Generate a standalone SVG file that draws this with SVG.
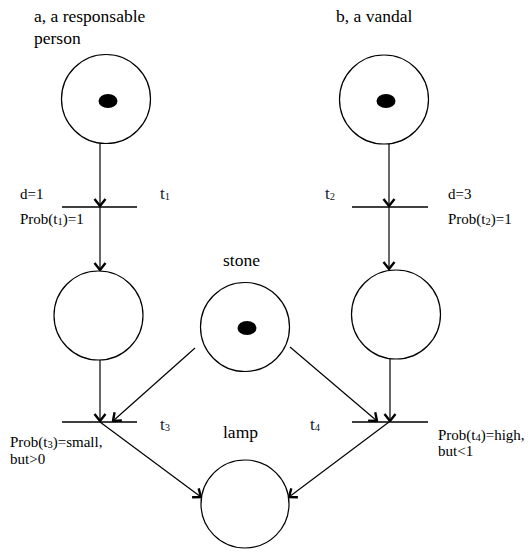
<svg xmlns="http://www.w3.org/2000/svg" width="532" height="557" viewBox="0 0 532 557">
<style>
.place{fill:#fff;stroke:#000;stroke-width:1.2}
.token{fill:#000}
.bar{stroke:#000;stroke-width:1.4}
.arc{stroke:#000;stroke-width:1.2;fill:none}
.lbl{font-family:"Liberation Serif",serif;font-size:17.5px;fill:#000}
.sm{font-family:"Liberation Serif",serif;font-size:15px;fill:#000}
.tl{font-family:"Liberation Serif",serif;font-size:17px;fill:#101830}
.sub{font-size:10.5px}
</style>
<defs>
<marker id="ar" viewBox="-9 -7 10 14" refX="0" refY="0" markerWidth="10" markerHeight="14" orient="auto" markerUnits="userSpaceOnUse">
<path d="M-7,-5.5 L0,0 L-7,5.5" fill="none" stroke="#000" stroke-width="2.4" stroke-linejoin="miter"/>
</marker>
</defs>
<rect width="532" height="557" fill="#fff"/>
<g id="connectors">
<line class="arc" x1="100" y1="143" x2="100" y2="206" marker-end="url(#ar)"/>
<line class="arc" x1="100" y1="207" x2="100" y2="270" marker-end="url(#ar)"/>
<line class="arc" x1="389" y1="144" x2="389" y2="206" marker-end="url(#ar)"/>
<line class="arc" x1="389" y1="207" x2="389" y2="269" marker-end="url(#ar)"/>
<line class="arc" x1="100" y1="360" x2="100" y2="421" marker-end="url(#ar)"/>
<line class="arc" x1="195" y1="348" x2="113" y2="421" marker-end="url(#ar)"/>
<line class="arc" x1="390" y1="359" x2="390" y2="421" marker-end="url(#ar)"/>
<line class="arc" x1="290" y1="347" x2="377" y2="421" marker-end="url(#ar)"/>
<line class="arc" x1="100" y1="422" x2="201" y2="497" marker-end="url(#ar)"/>
<line class="arc" x1="389" y1="422" x2="289" y2="497" marker-end="url(#ar)"/>
</g>
<g id="place-a">
<circle class="place" cx="106" cy="99" r="44.5"/>
<ellipse class="token" cx="108" cy="101" rx="9.5" ry="7"/>
<text class="lbl" x="34" y="22">a, a responsable</text>
<text class="lbl" x="34" y="44">person</text>
</g>
<g id="place-b">
<circle class="place" cx="384" cy="99.5" r="44.5"/>
<ellipse class="token" cx="386" cy="101" rx="9.5" ry="7"/>
<text class="lbl" x="336" y="22">b, a vandal</text>
</g>
<g id="place-a2">
<circle class="place" cx="98.5" cy="315.5" r="44.5"/>
</g>
<g id="place-b2">
<circle class="place" cx="396" cy="314.5" r="44.5"/>
</g>
<g id="place-stone">
<circle class="place" cx="245" cy="327" r="44.5"/>
<ellipse class="token" cx="247" cy="328" rx="9.5" ry="7"/>
<text class="lbl" x="223" y="266">stone</text>
</g>
<g id="place-lamp">
<circle class="place" cx="245" cy="504" r="44"/>
<text class="lbl" x="223" y="438">lamp</text>
</g>
<g id="t1">
<line class="bar" x1="62" y1="207" x2="137" y2="207"/>
<text class="tl" x="160" y="199">t<tspan class="sub" dy="1">1</tspan></text>
<text class="sm" x="20" y="199">d=1</text>
<text class="sm" x="20" y="224">Prob(t<tspan class="sub" dy="1">1</tspan><tspan dy="-1">)=1</tspan></text>
</g>
<g id="t2">
<line class="bar" x1="352" y1="207" x2="428" y2="207"/>
<text class="tl" x="325" y="199">t<tspan class="sub" dy="1">2</tspan></text>
<text class="sm" x="448" y="199">d=3</text>
<text class="sm" x="448" y="224">Prob(t<tspan class="sub" dy="1">2</tspan><tspan dy="-1">)=1</tspan></text>
</g>
<g id="t3">
<line class="bar" x1="62" y1="422" x2="137" y2="422"/>
<text class="tl" x="160" y="430">t<tspan class="sub" dy="1">3</tspan></text>
<text class="sm" x="10" y="447">Prob(t<tspan class="sub" dy="1">3</tspan><tspan dy="-1">)=small,</tspan></text>
<text class="sm" x="10" y="464">but&gt;0</text>
</g>
<g id="t4">
<line class="bar" x1="352" y1="422" x2="428" y2="422"/>
<text class="tl" x="310" y="430">t<tspan class="sub" dy="1">4</tspan></text>
<text class="sm" x="438" y="440">Prob(t<tspan class="sub" dy="1">4</tspan><tspan dy="-1">)=high,</tspan></text>
<text class="sm" x="438" y="456">but&lt;1</text>
</g>
</svg>
